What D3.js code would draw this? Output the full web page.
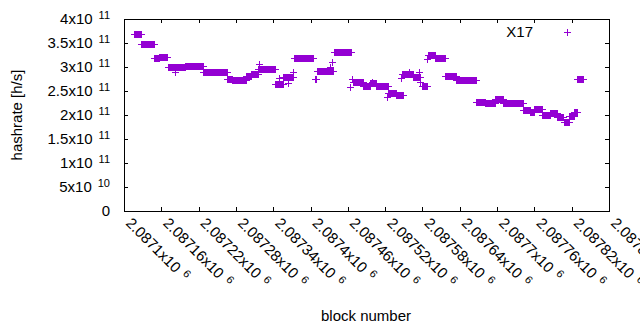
<!DOCTYPE html>
<html><head><meta charset="utf-8">
<script src="https://cdn.jsdelivr.net/npm/d3@7"></script>
<style>body{margin:0;background:#fff} text{font-family:"Liberation Sans",Arial,sans-serif}</style>
</head><body><svg id="c" width="640" height="330"></svg>
<script>
// ---- data ----
const blockBase = 2087100;
// runs of consecutive blocks that share a hashrate (offset from blockBase)
const runStart = [16,27,48,56,70,82,98,127,166,174,196,205,216,243,255,273,307,311,337,369,385,396,405,425,437,447,464,480,489,500,516,534,566,580,596,610,641,653,659,673,685,697,708,716,723,729];
const runEnd   = [27,49,56,69,82,98,127,166,174,196,205,216,243,255,271,304,309,336,365,385,396,405,425,437,449,465,476,488,500,516,534,566,580,596,610,641,653,659,673,685,697,706,716,723,728,738];
const runHash  = [3.68,3.47,3.18,3.21,2.99,3.00,3.02,2.89,2.76,2.72,2.81,2.86,2.95,2.65,2.80,3.18,2.76,2.91,3.31,2.68,2.61,2.66,2.60,2.46,2.42,2.86,2.80,2.60,3.25,3.18,2.82,2.72,2.28,2.24,2.33,2.26,2.11,2.07,2.12,1.99,2.04,1.96,1.85,1.98,2.06,2.76]; // x1e11
// isolated blocks
const loneBlock = [82,217,250,264,271,332,334,364,367,399,423,446,458,474,476,487];
const loneHash  = [2.90,3.06,2.78,2.67,2.89,2.99,3.10,2.59,2.74,2.69,2.375,2.78,2.90,2.90,2.69,3.17];

const seriesName = "X17";
const yTicks = [0,0.5,1,1.5,2,2.5,3,3.5,4]; // x1e11
const yTickMant = ["0","5","1","1.5","2","2.5","3","3.5","4"];
const yTickExp  = ["","10","11","11","11","11","11","11","11"];
const xTicks = [0,60,120,180,240,300,360,420,480,540,600,660,720,780]; // offset from blockBase
const xTickMant = ["2.0871","2.08716","2.08722","2.08728","2.08734","2.0874","2.08746","2.08752","2.08758","2.08764","2.0877","2.08776","2.08782","2.08788"];

// ---- build points ----
const points = [];
runStart.forEach((s,i)=>{ for(let b=s;b<=runEnd[i];b++) points.push({block:blockBase+b, hash:runHash[i]*1e11}); });
loneBlock.forEach((b,i)=>points.push({block:blockBase+b, hash:loneHash[i]*1e11}));

// ---- layout ----
const L=124, R=609, T=19, B=211;
const svg = d3.select("#c");
svg.append("rect").attr("width",640).attr("height",330).attr("fill","#fff");
const x = d3.scaleLinear().domain([blockBase, blockBase+780]).range([L,R]);
const y = d3.scaleLinear().domain([0,4e11]).range([B,T]);
const color = "#9400d3";

// axes (inward ticks, mirrored)
const gl = svg.append("g").attr("transform",`translate(${L},0)`)
  .call(d3.axisLeft(y).tickValues(yTicks.map(v=>v*1e11)).tickSize(-4).tickPadding(14));
const gr = svg.append("g").attr("transform",`translate(${R},0)`)
  .call(d3.axisRight(y).tickValues(yTicks.map(v=>v*1e11)).tickSize(-4).tickFormat(""));
const gb = svg.append("g").attr("transform",`translate(0,${B})`)
  .call(d3.axisBottom(x).tickValues(xTicks.map(v=>v+blockBase)).tickSize(-4).tickFormat(""));
const gt = svg.append("g").attr("transform",`translate(0,${T})`)
  .call(d3.axisTop(x).tickValues(xTicks.map(v=>v+blockBase)).tickSize(-4).tickFormat(""));
[gl,gr,gb,gt].forEach(g=>{ g.select(".domain").remove(); g.selectAll("line").attr("stroke","#000").attr("shape-rendering","crispEdges"); });

// y tick labels with superscript
gl.selectAll(".tick text").each(function(d,i){
  const t = d3.select(this).text(null).attr("x",-14).attr("dy",null).attr("y",4.5)
    .attr("fill","#000").attr("font-size",15).attr("font-family",'"Liberation Sans",Arial,sans-serif');
  if(yTickExp[i]){
    t.append("tspan").text(yTickMant[i]+"x10");
    t.append("tspan").attr("dx",6).attr("dy",-5).attr("font-size",11).text(yTickExp[i]);
  } else t.append("tspan").text(yTickMant[i]);
});

// x tick labels, rotated
const xl = svg.append("g");
xTicks.forEach((v,i)=>{
  const px = x(blockBase+v);
  const t = xl.append("text").attr("transform",`translate(${px+1},${B+13}) rotate(45)`)
    .attr("font-size",15).attr("fill","#000");
  t.append("tspan").text(xTickMant[i]+"x10");
  t.append("tspan").attr("dx",6).attr("dy",-5).attr("font-size",11).text("6");
});

// border
svg.append("rect").attr("x",L+0.5).attr("y",T+0.5).attr("width",R-L).attr("height",B-T)
  .attr("fill","none").attr("stroke","#000").attr("stroke-width",1).attr("shape-rendering","crispEdges");

// points
const plus = "M-3.5,0H3.5M0,-3.5V3.5";
svg.append("g").selectAll("path").data(points).join("path")
  .attr("transform",d=>`translate(${Math.round(x(d.block))+0.5},${Math.round(y(d.hash))+0.5})`)
  .attr("d",plus).attr("stroke",color).attr("stroke-width",1).attr("fill","none");

// legend
svg.append("text").attr("x",533).attr("y",37).attr("text-anchor","end").attr("font-size",15).text(seriesName);
svg.append("path").attr("transform","translate(567.5,32.5)").attr("d",plus).attr("stroke",color).attr("fill","none");

// axis titles
svg.append("text").attr("transform","translate(22,115) rotate(-90)").attr("text-anchor","middle").attr("font-size",15).text("hashrate [h/s]");
svg.append("text").attr("x",366).attr("y",321).attr("text-anchor","middle").attr("font-size",15).text("block number");
</script></body></html>
